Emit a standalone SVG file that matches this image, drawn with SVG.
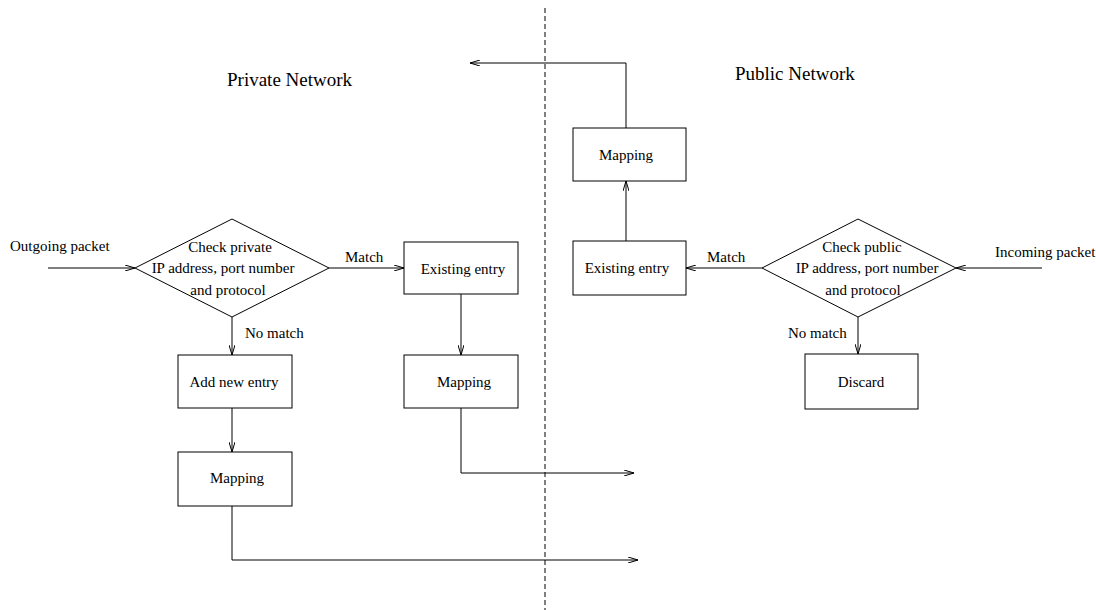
<svg xmlns="http://www.w3.org/2000/svg" width="1096" height="610" viewBox="0 0 1096 610">
<style>
.box{fill:#fff;stroke:#000;stroke-width:1}
.t{font-family:"Liberation Serif","Times New Roman",serif;font-size:15px;fill:#000}
.m{text-anchor:middle}
.title{font-family:"Liberation Serif","Times New Roman",serif;font-size:19px;fill:#000}
.c{fill:none;stroke:#000;stroke-width:1}
</style>
<defs>
<marker id="arr" viewBox="0 0 10 6" markerWidth="10" markerHeight="6" refX="10" refY="3" orient="auto" markerUnits="userSpaceOnUse">
<path d="M0,0 L10,3 L0,6" fill="none" stroke="#000" stroke-width="1"/>
</marker>
</defs>
<rect width="1096" height="610" fill="#fff"/>
<line x1="545" y1="8" x2="545" y2="610" stroke="#000" stroke-width="1" stroke-dasharray="5,3"/>
<text class="title" x="227" y="86">Private Network</text>
<text class="title" x="735" y="80">Public Network</text>
<g id="connectors">
<path class="c" d="M48,268 H135" marker-end="url(#arr)"/>
<path class="c" d="M329,268 H404" marker-end="url(#arr)"/>
<path class="c" d="M232,317 V355" marker-end="url(#arr)"/>
<path class="c" d="M232,408 V452" marker-end="url(#arr)"/>
<path class="c" d="M461,294 V355" marker-end="url(#arr)"/>
<path class="c" d="M461,408 V473 H634" marker-end="url(#arr)"/>
<path class="c" d="M232,506 V560 H638" marker-end="url(#arr)"/>
<path class="c" d="M1042,268 H956" marker-end="url(#arr)"/>
<path class="c" d="M762,268 H686" marker-end="url(#arr)"/>
<path class="c" d="M858,317 V354" marker-end="url(#arr)"/>
<path class="c" d="M626,241 V181" marker-end="url(#arr)"/>
<path class="c" d="M626,128 V63 H470" marker-end="url(#arr)"/>
<text class="t" x="10" y="251">Outgoing packet</text>
<text class="t" x="345" y="262">Match</text>
<text class="t" x="245" y="338">No match</text>
<text class="t" x="995" y="257">Incoming packet</text>
<text class="t" x="707" y="262">Match</text>
<text class="t" x="788" y="338">No match</text>
</g>
<g id="check-private">
<polygon class="box" points="135,268 232,219 329,268 232,317"/>
<text class="t m" x="230" y="252">Check private</text>
<text class="t m" x="223" y="273">IP address, port number</text>
<text class="t m" x="228" y="295">and protocol</text>
</g>
<g id="existing-entry-left">
<rect class="box" x="404" y="242" width="114" height="52"/>
<text class="t m" x="463" y="274">Existing entry</text>
</g>
<g id="mapping-mid">
<rect class="box" x="404" y="355" width="114" height="53"/>
<text class="t m" x="464" y="387">Mapping</text>
</g>
<g id="add-new-entry">
<rect class="box" x="178" y="355" width="114" height="53"/>
<text class="t m" x="234" y="387">Add new entry</text>
</g>
<g id="mapping-low">
<rect class="box" x="178" y="452" width="114" height="54"/>
<text class="t m" x="237" y="483">Mapping</text>
</g>
<g id="mapping-upper">
<rect class="box" x="573" y="128" width="113" height="53"/>
<text class="t m" x="626" y="160">Mapping</text>
</g>
<g id="existing-entry-right">
<rect class="box" x="573" y="241" width="113" height="54"/>
<text class="t m" x="627" y="273">Existing entry</text>
</g>
<g id="check-public">
<polygon class="box" points="762,268 858,219 956,268 858,317"/>
<text class="t m" x="862" y="252">Check public</text>
<text class="t m" x="867" y="273">IP address, port number</text>
<text class="t m" x="863" y="295">and protocol</text>
</g>
<g id="discard">
<rect class="box" x="805" y="354" width="113" height="55"/>
<text class="t m" x="861" y="387">Discard</text>
</g>
</svg>
